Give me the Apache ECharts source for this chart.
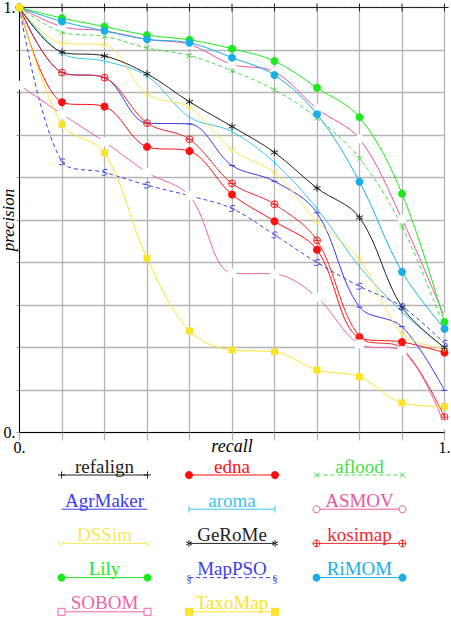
<!DOCTYPE html>
<html>
<head>
<meta charset="utf-8">
<script src="https://cdn.jsdelivr.net/npm/echarts@6/dist/echarts.min.js"></script>
<style>
  html, body { margin: 0; padding: 0; background: #fff; }
  #chart { width: 451px; height: 619px; }
</style>
</head>
<body>
<div id="chart"></div>
<script>
// recall steps and precision values
const recall = [0, 0.1, 0.2, 0.3, 0.4, 0.5, 0.6, 0.7, 0.8, 0.9, 1]
const refalign = [1, 1, 1, 1, 1, 1, 1, 1, 1, 1, 1]
const edna = [1, 0.777, 0.767, 0.672, 0.662, 0.560, 0.497, 0.430, 0.223, 0.213, 0.188]
const aflood = [1, 0.942, 0.932, 0.905, 0.887, 0.851, 0.806, 0.740, 0.645, 0.485, 0.245]
const agrMaker = [1, 0.847, 0.835, 0.728, 0.726, 0.628, 0.591, 0.517, 0.295, 0.249, 0.099]
const aroma = [1, 0.892, 0.874, 0.839, 0.742, 0.708, 0.635, 0.527, 0.390, 0.284, 0.199]
const asmov = [1, 0.955, 0.945, 0.925, 0.913, 0.866, 0.849, 0.762, 0.691, 0.502, 0.271]
const dssim = [1, 0.916, 0.912, 0.796, 0.765, 0.665, 0.611, 0.496, 0.408, 0.233, 0.197]
const gerome = [1, 0.895, 0.886, 0.844, 0.778, 0.720, 0.659, 0.575, 0.506, 0.295, 0.200]
const kosimap = [1, 0.847, 0.835, 0.728, 0.690, 0.586, 0.537, 0.452, 0.225, 0.198, 0.036]
const lily = [1, 0.975, 0.955, 0.935, 0.924, 0.903, 0.874, 0.811, 0.742, 0.562, 0.260]
const mapPSO = [1, 0.637, 0.612, 0.582, 0.557, 0.527, 0.465, 0.400, 0.344, 0.296, 0.210]
const rimom = [1, 0.967, 0.945, 0.925, 0.917, 0.882, 0.841, 0.749, 0.590, 0.378, 0.244]
const sobom = [0.817, 0.749, 0.684, 0.612, 0.557, 0.375, 0.373, 0.318, 0.208, 0.192, 0.018]
const taxoMap = [1, 0.725, 0.658, 0.410, 0.239, 0.194, 0.190, 0.147, 0.131, 0.070, 0.061]

const names = ['refalign', 'edna', 'aflood', 'AgrMaker', 'aroma', 'ASMOV', 'DSSim',
  'GeRoMe', 'kosimap', 'Lily', 'MapPSO', 'RiMOM', 'SOBOM', 'TaxoMap']
const values = [refalign, edna, aflood, agrMaker, aroma, asmov, dssim,
  gerome, kosimap, lily, mapPSO, rimom, sobom, taxoMap]
const axisLabels = { 0: '0.', 1: '1.' }

const FONT = 'Liberation Serif, DejaVu Serif, serif'

// marker paths
const P = {
  plus: 'path://M0,5L10,5M5,0L5,10',
  dash: 'path://M0,0M10,10M0,5L10,5',
  bar: 'path://M0,0M10,10M5,0L5,10',
  cross: 'path://M0,0L10,10M0,10L10,0',
  vee: 'path://M0,1L5,9L10,1',
  star: 'path://M5,0L5,10M0.7,2.5L9.3,7.5M0.7,7.5L9.3,2.5',
  oplus: 'path://M0,5A5,5,0,1,1,10,5A5,5,0,1,1,0,5ZM5,0L5,10M0,5L10,5',
  sect: 'path://M8,1C5,-1 1,1 3,3.5C5,5.5 9,5 7,8C5,10.5 2,10 1,9'
}

// style per system: colour, chart symbol, legend end mark
const look = {
  refalign: { c: '#222222', sym: P.plus, size: 8, fill: false, leg: 'plus' },
  edna: { c: '#ff1010', sym: 'circle', size: 8, fill: true, leg: 'dot' },
  aflood: { c: '#45dd45', sym: P.cross, size: 5, fill: false, leg: 'cross', dash: true },
  AgrMaker: { c: '#3a3aee', sym: P.dash, size: 6, fill: false, leg: 'none' },
  aroma: { c: '#3cc6ea', sym: P.bar, size: 6, fill: false, leg: 'bar' },
  ASMOV: { c: '#e8569e', sym: 'emptyCircle', size: 7, fill: false, leg: 'ocircle' },
  DSSim: { c: '#f8e85a', sym: P.vee, size: 6, fill: false, leg: 'vee' },
  GeRoMe: { c: '#222222', sym: P.star, size: 7, fill: false, leg: 'star' },
  kosimap: { c: '#ee2a2a', sym: P.oplus, size: 7, fill: false, leg: 'oplus' },
  Lily: { c: '#1ee81e', sym: 'circle', size: 8, fill: true, leg: 'dot' },
  MapPSO: { c: '#4040ea', sym: P.sect, size: 6, fill: false, leg: 'sect', dash: true },
  RiMOM: { c: '#18aee8', sym: 'circle', size: 8, fill: true, leg: 'dot' },
  SOBOM: { c: '#ee64a8', sym: 'emptyRect', size: 7, fill: false, leg: 'orect' },
  TaxoMap: { c: '#fbe428', sym: 'rect', size: 7, fill: true, leg: 'rect' }
}

const series = names.map((name, i) => {
  const s = look[name]
  return {
    name: name,
    type: 'line',
    smooth: 0.35,
    data: recall.map((r, k) => [r, values[i][k]]),
    symbol: s.sym,
    symbolSize: s.size,
    showAllSymbol: true,
    lineStyle: { color: s.c, width: 1, type: s.dash ? [4, 3] : 'solid' },
    itemStyle: s.fill
      ? { color: s.c, borderWidth: 0 }
      : { color: s.sym.indexOf('empty') === 0 ? '#fff' : 'rgba(0,0,0,0)', borderColor: s.c, borderWidth: 1 },
    emphasis: { disabled: true },
    animation: false,
    z: 2 + i
  }
})

// legend: name on top of a short line with a mark at each end
function mark(kind, c, x, y) {
  const st = { stroke: c, lineWidth: 1, fill: null }
  const ln = (x1, y1, x2, y2) => ({ type: 'line', shape: { x1, y1, x2, y2 }, style: st })
  switch (kind) {
    case 'plus': return [ln(x - 3.5, y, x + 3.5, y), ln(x, y - 3.5, x, y + 3.5)]
    case 'dot': return [{ type: 'circle', shape: { cx: x, cy: y, r: 4 }, style: { fill: c } }]
    case 'cross': return [ln(x - 2.5, y - 2.5, x + 2.5, y + 2.5), ln(x - 2.5, y + 2.5, x + 2.5, y - 2.5)]
    case 'bar': return [ln(x, y - 3.5, x, y + 3.5)]
    case 'ocircle': return [{ type: 'circle', shape: { cx: x, cy: y, r: 3.5 }, style: { stroke: c, fill: '#fff', lineWidth: 1 } }]
    case 'vee': return [{ type: 'polyline', shape: { points: [[x - 3, y - 2.5], [x, y + 2.5], [x + 3, y - 2.5]] }, style: st }]
    case 'star': return [ln(x, y - 3.5, x, y + 3.5), ln(x - 3, y - 1.8, x + 3, y + 1.8), ln(x - 3, y + 1.8, x + 3, y - 1.8)]
    case 'oplus': return [{ type: 'circle', shape: { cx: x, cy: y, r: 3.5 }, style: { stroke: c, fill: '#fff', lineWidth: 1 } },
      ln(x - 3.5, y, x + 3.5, y), ln(x, y - 3.5, x, y + 3.5)]
    case 'sect': return [{ type: 'text', x: x, y: y, style: { text: '§', fill: c, font: '11px ' + FONT, align: 'center', verticalAlign: 'middle' } }]
    case 'orect': return [{ type: 'rect', shape: { x: x - 3.5, y: y - 3.5, width: 7, height: 7 }, style: { stroke: c, fill: '#fff', lineWidth: 1 } }]
    case 'rect': return [{ type: 'rect', shape: { x: x - 4, y: y - 4, width: 8, height: 8 }, style: { fill: c } }]
    default: return []
  }
}

const colX = [104.5, 232, 359.5]
const rowY = 475
const rowStep = 34.2
const halfLen = 43
const legendEls = []
names.forEach((name, i) => {
  const s = look[name]
  const cx = colX[i % 3]
  const y = rowY + Math.floor(i / 3) * rowStep
  legendEls.push({
    type: 'line',
    shape: { x1: cx - halfLen, y1: y, x2: cx + halfLen, y2: y },
    style: { stroke: s.c, lineWidth: 1, lineDash: s.dash ? [4, 3] : null }
  })
  legendEls.push(...mark(s.leg, s.c, cx - halfLen, y))
  legendEls.push(...mark(s.leg, s.c, cx + halfLen, y))
  legendEls.push({
    type: 'text', x: cx, y: y - 9,
    style: { text: name, fill: s.c, fontFamily: FONT, fontSize: 19, align: 'center', verticalAlign: 'middle' }
  })
})

const chart = echarts.init(document.getElementById('chart'), null, { renderer: 'svg' })
chart.setOption({
  backgroundColor: '#fff',
  animation: false,
  grid: {
    left: 19.5, right: 6.5, top: 7.5, bottom: 186.5,
    show: true, borderColor: '#000', borderWidth: 1,
    outerBoundsMode: 'none'
  },
  xAxis: {
    type: 'value', min: 0, max: 1, interval: 0.1,
    name: 'recall', nameLocation: 'middle', nameGap: 4, nameMoveOverlap: false,
    nameTextStyle: { fontFamily: FONT, fontStyle: 'italic', fontSize: 18, color: '#000', verticalAlign: 'top' },
    axisLine: { lineStyle: { color: '#000', width: 1 } },
    axisTick: { show: true, length: 8, lineStyle: { color: '#b4b4b4', width: 1.3 } },
    axisLabel: {
      fontFamily: FONT, fontSize: 16, color: '#000', margin: 7,
      showMinLabel: true, showMaxLabel: true,
      formatter: (v) => axisLabels[v] || ''
    },
    splitLine: { show: true, lineStyle: { color: '#b4b4b4', width: 1.3 } }
  },
  yAxis: {
    type: 'value', min: 0, max: 1, interval: 0.1,
    name: 'precision', nameLocation: 'middle', nameGap: 3, nameMoveOverlap: false,
    nameTextStyle: { fontFamily: FONT, fontStyle: 'italic', fontSize: 17, color: '#000' },
    axisLine: { lineStyle: { color: '#000', width: 1 } },
    axisTick: { show: true, length: 3, lineStyle: { color: '#999' } },
    axisLabel: {
      fontFamily: FONT, fontSize: 16, color: '#000', margin: 4,
      showMinLabel: true, showMaxLabel: true,
      formatter: (v) => axisLabels[v] || ''
    },
    splitLine: { show: true, lineStyle: { color: '#b4b4b4', width: 1.3 } }
  },
  graphic: { elements: legendEls },
  series: series
})
</script>
</body>
</html>
